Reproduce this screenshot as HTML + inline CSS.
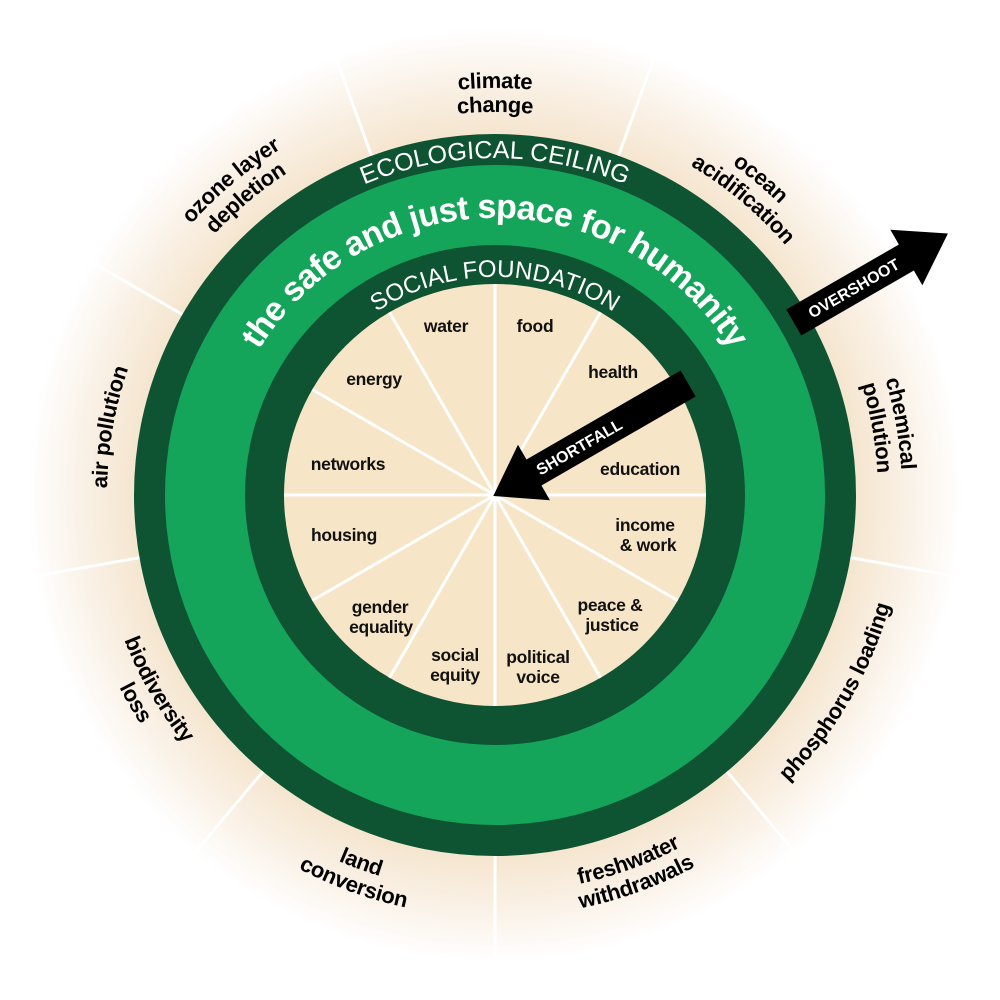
<!DOCTYPE html>
<html><head><meta charset="utf-8"><style>
html,body{margin:0;padding:0;background:#fff;}
svg{display:block;}
.o{font-family:"Liberation Sans",sans-serif;font-weight:bold;font-size:22px;fill:#000;letter-spacing:-0.3px;}
.i{font-family:"Liberation Sans",sans-serif;font-weight:bold;font-size:17.5px;fill:#111;text-anchor:middle;letter-spacing:-0.3px;}
</style></head><body>
<svg width="1000" height="1000" viewBox="0 0 1000 1000" xmlns="http://www.w3.org/2000/svg">
<defs>
<radialGradient id="bg" cx="495" cy="495" r="520" gradientUnits="userSpaceOnUse">
<stop offset="0.68" stop-color="#f4e4cc"/>
<stop offset="0.78" stop-color="#f9efe2"/>
<stop offset="0.9" stop-color="#ffffff"/>
</radialGradient>
<path id="t407" d="M142.5,291.5 A407 407 0 0 1 847.5,291.5"/>
<path id="t383" d="M163.3,303.5 A383 383 0 0 1 826.7,303.5"/>
<path id="t388" d="M159,301 A388 388 0 0 1 831,301"/>
<path id="b398" d="M150.3,694 A398 398 0 0 0 839.7,694"/>
<path id="b422" d="M129.5,706 A422 422 0 0 0 860.5,706"/>
<path id="b410" d="M139.9,700 A410 410 0 0 0 850.1,700"/>
<path id="eco" d="M203.2,326.5 A337 337 0 0 1 786.8,326.5"/>
<path id="safe" d="M227.4,423.3 A277 277 0 0 1 762.6,423.3"/>
<path id="soc" d="M290.1,420.4 A218 218 0 0 1 699.9,420.4"/>
</defs>
<rect width="1000" height="1000" fill="#fff"/>
<circle cx="495" cy="495" r="520" fill="url(#bg)"/>
<g stroke="#fff" stroke-width="3">
<line x1="495" y1="140" x2="495" y2="-40" transform="rotate(20 495 495)"/>
<line x1="495" y1="140" x2="495" y2="-40" transform="rotate(60 495 495)"/>
<line x1="495" y1="140" x2="495" y2="-40" transform="rotate(100 495 495)"/>
<line x1="495" y1="140" x2="495" y2="-40" transform="rotate(140 495 495)"/>
<line x1="495" y1="140" x2="495" y2="-40" transform="rotate(180 495 495)"/>
<line x1="495" y1="140" x2="495" y2="-40" transform="rotate(220 495 495)"/>
<line x1="495" y1="140" x2="495" y2="-40" transform="rotate(260 495 495)"/>
<line x1="495" y1="140" x2="495" y2="-40" transform="rotate(300 495 495)"/>
<line x1="495" y1="140" x2="495" y2="-40" transform="rotate(340 495 495)"/>
</g>
<circle cx="495" cy="495" r="361" fill="#0e5332"/>
<circle cx="495" cy="495" r="330" fill="#15a55a"/>
<circle cx="495" cy="495" r="250" fill="#0e5332"/>
<circle cx="495" cy="495" r="211" fill="#f7e5c7"/>
<g stroke="#fff" stroke-width="3">
<line x1="495" y1="284" x2="495" y2="706"/>
<line x1="495" y1="284" x2="495" y2="706" transform="rotate(30 495 495)"/>
<line x1="495" y1="284" x2="495" y2="706" transform="rotate(60 495 495)"/>
<line x1="495" y1="284" x2="495" y2="706" transform="rotate(90 495 495)"/>
<line x1="495" y1="284" x2="495" y2="706" transform="rotate(120 495 495)"/>
<line x1="495" y1="284" x2="495" y2="706" transform="rotate(150 495 495)"/>
</g>
<text font-family="Liberation Sans,sans-serif" font-size="25" fill="#fff" text-anchor="middle"><textPath href="#eco" startOffset="50%">ECOLOGICAL CEILING</textPath></text>
<text font-family="Liberation Sans,sans-serif" font-size="34" font-weight="bold" fill="#fff" text-anchor="middle"><textPath href="#safe" startOffset="50%" textLength="565" lengthAdjust="spacing">the safe and just space for humanity</textPath></text>
<text font-family="Liberation Sans,sans-serif" font-size="24" fill="#fff" text-anchor="middle"><textPath href="#soc" startOffset="50%">SOCIAL FOUNDATION</textPath></text>
<!-- inner labels -->
<text class="i" x="446" y="332">water</text>
<text class="i" x="535" y="332">food</text>
<text class="i" x="613" y="378">health</text>
<text class="i" x="640" y="475">education</text>
<text class="i" x="645" y="531">income</text>
<text class="i" x="648" y="551">&amp; work</text>
<text class="i" x="610" y="611">peace &amp;</text>
<text class="i" x="612" y="631">justice</text>
<text class="i" x="538" y="663">political</text>
<text class="i" x="538" y="683">voice</text>
<text class="i" x="455" y="661">social</text>
<text class="i" x="455" y="681">equity</text>
<text class="i" x="380" y="613">gender</text>
<text class="i" x="381" y="633">equality</text>
<text class="i" x="344" y="541">housing</text>
<text class="i" x="348" y="470">networks</text>
<text class="i" x="374" y="385">energy</text>
<!-- outer labels -->
<text class="o" text-anchor="middle"><textPath href="#t407" startOffset="50%">climate</textPath></text>
<text class="o" text-anchor="middle"><textPath href="#t383" startOffset="50%">change</textPath></text>
<g transform="rotate(40 495 495)"><text class="o" text-anchor="middle"><textPath href="#t407" startOffset="50%">ocean</textPath></text><text class="o" text-anchor="middle"><textPath href="#t383" startOffset="50%">acidification</textPath></text></g>
<g transform="rotate(80 495 495)"><text class="o" text-anchor="middle"><textPath href="#t407" startOffset="50%">chemical</textPath></text><text class="o" text-anchor="middle"><textPath href="#t383" startOffset="50%">pollution</textPath></text></g>
<g transform="rotate(-60 495 495)"><text class="o" text-anchor="middle"><textPath href="#b410" startOffset="50%">phosphorus loading</textPath></text></g>
<g transform="rotate(-20 495 495)"><text class="o" text-anchor="middle"><textPath href="#b398" startOffset="50%">freshwater</textPath></text><text class="o" text-anchor="middle"><textPath href="#b422" startOffset="50%">withdrawals</textPath></text></g>
<g transform="rotate(20 495 495)"><text class="o" text-anchor="middle"><textPath href="#b398" startOffset="50%">land</textPath></text><text class="o" text-anchor="middle"><textPath href="#b422" startOffset="50%">conversion</textPath></text></g>
<g transform="rotate(60 495 495)"><text class="o" text-anchor="middle"><textPath href="#b398" startOffset="50%">biodiversity</textPath></text><text class="o" text-anchor="middle"><textPath href="#b422" startOffset="50%">loss</textPath></text></g>
<g transform="rotate(-80 495 495)"><text class="o" text-anchor="middle"><textPath href="#t388" startOffset="50%">air pollution</textPath></text></g>
<g transform="rotate(-40 495 495)"><text class="o" text-anchor="middle"><textPath href="#t407" startOffset="50%">ozone layer</textPath></text><text class="o" text-anchor="middle"><textPath href="#t383" startOffset="50%">depletion</textPath></text></g>
<!-- overshoot arrow -->
<g transform="rotate(60 495 495)">
<polygon points="480,150 510,150 510,20 527,20 495,-28 463,20 480,20" fill="#000"/>
<text x="495" y="81" transform="rotate(-90 495 81)" dy="6" font-family="Liberation Sans,sans-serif" font-weight="bold" font-size="16" fill="#fff" text-anchor="middle">OVERSHOOT</text>
</g>
<!-- shortfall arrow -->
<g transform="rotate(60 495 495)">
<polygon points="480,272 510,272 510,450 527,450 495,497 463,450 480,450" fill="#000"/>
<text x="495" y="398" transform="rotate(-90 495 398)" dy="6" font-family="Liberation Sans,sans-serif" font-weight="bold" font-size="16" fill="#fff" text-anchor="middle">SHORTFALL</text>
</g>
</svg>
</body></html>
